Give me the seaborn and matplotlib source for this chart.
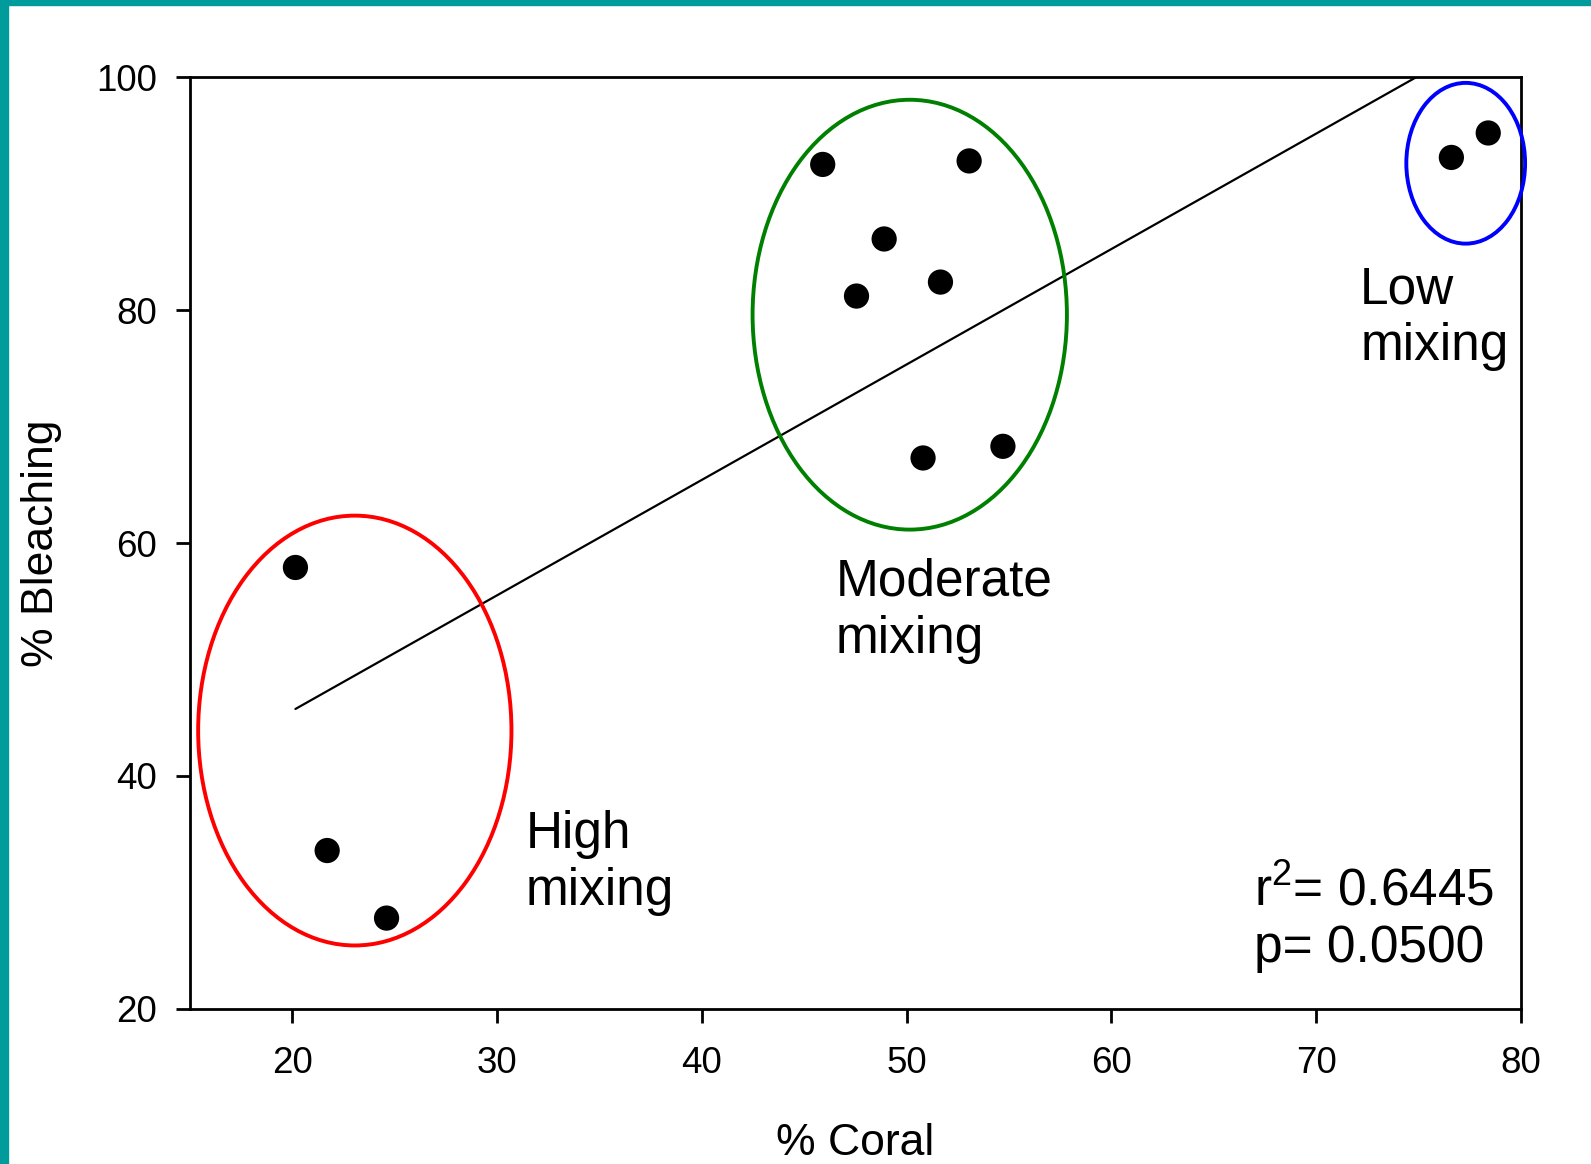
import seaborn as sns
import pandas as pd
import matplotlib
matplotlib.use('Agg')
import matplotlib.pyplot as plt
from matplotlib.patches import Ellipse, Rectangle

# data
coral = [20.15, 21.7, 24.6, 45.9, 53.05, 48.9, 51.65, 47.55, 50.8, 54.7, 76.6, 78.4]
bleaching = [57.9, 33.6, 27.8, 92.5, 92.8, 86.1, 82.4, 81.2, 67.3, 68.3, 93.1, 95.2]

# group outlines: centre x, centre y, width, height (data units)
group_names = ['High', 'Moderate', 'Low']
group_cx = [23.05, 50.15, 77.3]
group_cy = [43.9, 79.6, 92.6]
group_w = [15.3, 15.35, 5.8]
group_h = [36.9, 36.9, 13.8]
group_colors = ['#FF0000', '#008000', '#0000FF']

# labels: text, x, y (baseline of last line)
label_texts = ['High\nmixing', 'Moderate\nmixing', 'Low\nmixing', 'r$^\\mathrm{2}$= 0.6445\np= 0.0500']
label_x = [31.4, 46.55, 72.15, 66.95]
label_y = [28.95, 50.6, 75.7, 24.0]

xticks = [20, 30, 40, 50, 60, 70, 80]
yticks = [20, 40, 60, 80, 100]


def make_plot():
    sns.set_style('white')
    plt.rcParams['font.family'] = ['Liberation Sans', 'DejaVu Sans']
    plt.rcParams['mathtext.fontset'] = 'custom'
    plt.rcParams['mathtext.rm'] = 'Liberation Sans'
    plt.rcParams['mathtext.it'] = 'Liberation Sans'
    plt.rcParams['text.color'] = 'black'
    plt.rcParams['axes.labelcolor'] = 'black'

    df = pd.DataFrame({'Coral': coral, 'Bleaching': bleaching})

    fig = plt.figure(figsize=(15.91, 11.64), dpi=100)
    ax = fig.add_axes([0.1194, 0.1332, 0.956 - 0.1194, 0.9338 - 0.1332])

    sns.regplot(data=df, x='Coral', y='Bleaching', ci=None, scatter=False, ax=ax,
                line_kws=dict(color='black', linewidth=1.6, zorder=2))
    sns.scatterplot(data=df, x='Coral', y='Bleaching', ax=ax, color='black',
                    s=330, edgecolor='none', zorder=3)

    for cx, cy, w, h, c in zip(group_cx, group_cy, group_w, group_h, group_colors):
        ax.add_patch(Ellipse((cx, cy), w, h, fill=False, edgecolor=c,
                             linewidth=2.8, zorder=4, clip_on=False))

    for t, x, y in zip(label_texts, label_x, label_y):
        ax.text(x, y, t, fontsize=37, ha='left', va='baseline', linespacing=1.2,
                color='black')

    ax.set_xlim(15, 80)
    ax.set_ylim(20, 100)
    ax.set_xticks(xticks)
    ax.set_yticks(yticks)

    for s in ax.spines.values():
        s.set_visible(True)
        s.set_color('black')
        s.set_linewidth(2)

    ax.tick_params(axis='x', which='major', labelsize=26.5, direction='out', length=10,
                   width=2, pad=17, bottom=True, colors='black')
    ax.tick_params(axis='y', which='major', labelsize=26.5, direction='out', length=10,
                   width=2, pad=14, left=True, colors='black')

    ax.set_xlabel('% Coral', fontsize=32, labelpad=30)
    ax.set_ylabel('% Bleaching', fontsize=32, labelpad=24)

    # teal frame on the slide edges
    teal = '#009B9B'
    fig.patches.append(Rectangle((0, 0), 8 / 1591, 1, transform=fig.transFigure,
                                 color=teal, zorder=10))
    fig.patches.append(Rectangle((0, 1 - 5 / 1164), 1, 5 / 1164, transform=fig.transFigure,
                                 color=teal, zorder=10))

    fig.savefig('out.png', dpi=100)


def main():
    make_plot()


if __name__ == "__main__":
    main()
